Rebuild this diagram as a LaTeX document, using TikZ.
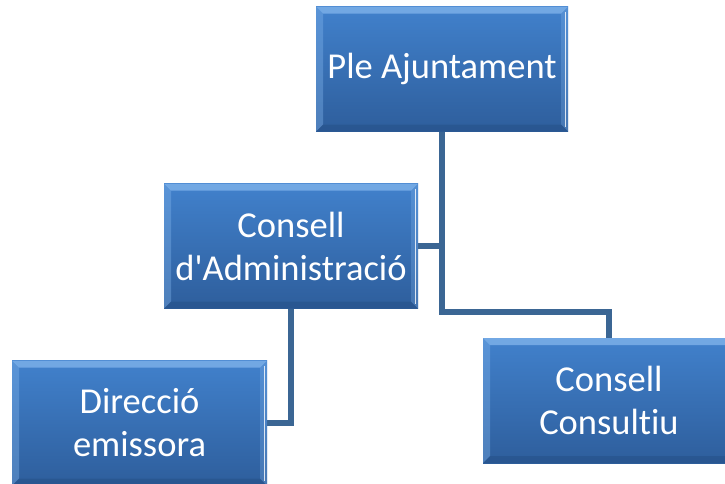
\documentclass[tikz,border=0pt]{standalone}
\usepackage{fontspec}
\setmainfont{Carlito}[Ligatures={TeX,NoCommon}]
\usepackage{xcolor}
\usepackage{tikz}
\usetikzlibrary{calc}
\usetikzlibrary{positioning}
\usetikzlibrary{backgrounds}
\definecolor{boxtop}{HTML}{4181CC}
\definecolor{boxbot}{HTML}{2E5E9C}
\definecolor{bevlight}{HTML}{7FB2EA}
\definecolor{bevdark}{HTML}{254F86}
\definecolor{linkblue}{HTML}{3B6694}

\begin{document}
\begin{tikzpicture}[x=1pt,y=-1pt,
	orgbox/.style={rectangle,inner sep=0pt,minimum width=252pt,minimum height=125pt,
		top color=boxtop,bottom color=boxbot,text=white,align=center,
		font=\fontsize{36.5}{43}\selectfont,
		path picture={
			\fill[bevlight,opacity=.8] (path picture bounding box.north west) -- (path picture bounding box.north east)
				-- ([shift={(-7pt,-7pt)}]path picture bounding box.north east) -- ([shift={(7pt,-7pt)}]path picture bounding box.north west) -- cycle;
			\fill[bevlight,opacity=.4] (path picture bounding box.north west) -- ([shift={(7pt,-7pt)}]path picture bounding box.north west)
				-- ([shift={(7pt,7pt)}]path picture bounding box.south west) -- (path picture bounding box.south west) -- cycle;
			\fill[bevlight,opacity=.3] (path picture bounding box.north east) -- ([shift={(-7pt,-7pt)}]path picture bounding box.north east)
				-- ([shift={(-7pt,7pt)}]path picture bounding box.south east) -- (path picture bounding box.south east) -- cycle;
			\draw[white,opacity=.8,line width=1pt] ([shift={(-3pt,-5pt)}]path picture bounding box.north east) -- ([shift={(-3pt,5pt)}]path picture bounding box.south east);
			\fill[bevdark,opacity=.5] (path picture bounding box.south west) -- (path picture bounding box.south east)
				-- ([shift={(-7pt,7pt)}]path picture bounding box.south east) -- ([shift={(7pt,7pt)}]path picture bounding box.south west) -- cycle;
		}},
	orglink/.style={draw=linkblue,line width=6.5pt}]
	\useasboundingbox (0,0) rectangle (725,483);
	\node[orgbox] (ple) at (442,69) {Ple Ajuntament};
	\node[orgbox,minimum width=254pt] (admin) at (291,246) {Consell\\d\textquotesingle Administració};
	\node[orgbox,minimum width=255pt] (direccio) at (139.5,423) {Direcció\\emissora};
	\node[orgbox] (consultiu) at (609,400.5) {Consell\\Consultiu};
	\coordinate (knee) at (442,312);
	\begin{scope}[on background layer]
		\draw[orglink] (ple.south) |- (admin.east);
		\draw[orglink] (ple.south) -- (knee) -| (consultiu.north);
		\draw[orglink] (admin.south) |- (direccio.east);
	\end{scope}
\end{tikzpicture}
\end{document}
